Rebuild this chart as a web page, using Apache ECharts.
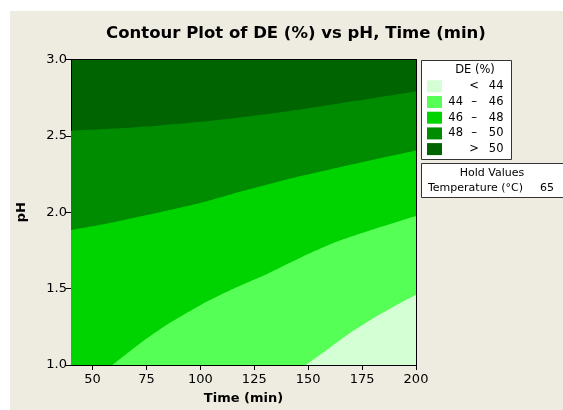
<!DOCTYPE html>
<html>
<head>
<meta charset="utf-8">
<script src="https://cdn.jsdelivr.net/npm/echarts@6/dist/echarts.min.js"></script>
<style>
  html, body { margin: 0; padding: 0; background: #ffffff; }
  #chart { width: 563px; height: 410px; }
</style>
</head>
<body>
<div id="chart"></div>
<script>
// Axis ticks
const timeTicks = [50, 75, 100, 125, 150, 175, 200];
const timeRange = [40, 200];
const phRange = [1.0, 3.0];

// Contour boundaries: pH of each DE level along Time (min)
const de50Time = [40, 60, 80, 100, 120, 140, 160, 180, 200];
const de50PH   = [2.533, 2.548, 2.567, 2.592, 2.624, 2.66, 2.702, 2.746, 2.79];
const de48Time = [40, 60, 80, 100, 120, 140, 160, 180, 200];
const de48PH   = [1.884, 1.935, 1.996, 2.06, 2.14, 2.215, 2.28, 2.344, 2.405];
const de46Time = [59.3, 72.4, 85.5, 101, 116.5, 131.9, 147.3, 162.8, 178.2, 200];
const de46PH   = [1.0, 1.145, 1.273, 1.40, 1.507, 1.603, 1.709, 1.805, 1.879, 1.975];
const de44Time = [148.9, 160, 170, 180, 190, 200];
const de44PH   = [1.0, 1.113, 1.216, 1.305, 1.385, 1.46];

// Legend bands (lowest to highest)
const bandColors = ['#D4FFD4', '#55FF55', '#00D400', '#008C00', '#006400'];
const bandLow    = ['', '44', '46', '48', ''];
const bandSign   = ['<', '–', '–', '–', '>'];
const bandHigh   = ['44', '46', '48', '50', '50'];

const holdName = 'Temperature (°C)';
const holdValue = '65';

const FONT = 'DejaVu Sans';
const zip = (xs, ys) => xs.map((x, i) => [x, ys[i]]);

function band(name, xs, ys, color) {
  return {
    name: name, type: 'line', data: zip(xs, ys),
    symbol: 'none', smooth: 0.2, clip: true,
    lineStyle: { width: 0 },
    areaStyle: { color: color, opacity: 1, origin: 'start' },
    silent: true, z: 2
  };
}

const graphics = [
  { type: 'rect', z: -10, shape: { x: 10, y: 11, width: 553, height: 399 }, style: { fill: '#EEEBE0' } },
  { type: 'rect', z: 10, shape: { x: 421.5, y: 60.5, width: 90, height: 99 }, style: { fill: '#ffffff', stroke: '#333', lineWidth: 1 } },
  { type: 'text', z: 11, x: 475, y: 70, style: { text: 'DE (%)', font: '11.5px "DejaVu Sans"', fill: '#000', align: 'center', verticalAlign: 'middle' } },
  { type: 'rect', z: 10, shape: { x: 421.5, y: 163.5, width: 150, height: 34 }, style: { fill: '#ffffff', stroke: '#333', lineWidth: 1 } },
  { type: 'text', z: 11, x: 492, y: 173, style: { text: 'Hold Values', font: '11px "DejaVu Sans"', fill: '#000', align: 'center', verticalAlign: 'middle' } },
  { type: 'text', z: 11, x: 428, y: 188, style: { text: holdName, font: '11px "DejaVu Sans"', fill: '#000', align: 'left', verticalAlign: 'middle' } },
  { type: 'text', z: 11, x: 554, y: 188, style: { text: holdValue, font: '11px "DejaVu Sans"', fill: '#000', align: 'right', verticalAlign: 'middle' } }
];
bandColors.forEach((c, i) => {
  const y = 86.3 + i * 15.7;
  graphics.push({ type: 'rect', z: 11, shape: { x: 427, y: y - 6, width: 15, height: 12 }, style: { fill: c } });
  if (bandLow[i]) graphics.push({ type: 'text', z: 11, x: 463, y: y, style: { text: bandLow[i], font: '11.5px "DejaVu Sans"', fill: '#000', align: 'right', verticalAlign: 'middle' } });
  graphics.push({ type: 'text', z: 11, x: 474, y: y, style: { text: bandSign[i], font: '11.5px "DejaVu Sans"', fill: '#000', align: 'center', verticalAlign: 'middle' } });
  graphics.push({ type: 'text', z: 11, x: 503.5, y: y, style: { text: bandHigh[i], font: '11.5px "DejaVu Sans"', fill: '#000', align: 'right', verticalAlign: 'middle' } });
});

const chart = echarts.init(document.getElementById('chart'), null, { renderer: 'canvas' });
chart.setOption({
  backgroundColor: '#ffffff',
  animation: false,
  textStyle: { fontFamily: FONT },
  title: {
    text: 'Contour Plot of DE (%) vs pH, Time (min)',
    left: 291, top: 20, textAlign: 'center',
    textStyle: { fontFamily: FONT, fontSize: 16.5, fontWeight: 'bold', color: '#000' }
  },
  grid: {
    left: 71, top: 59.5, width: 345, height: 313.5,
    show: true, backgroundColor: bandColors[4], borderWidth: 0
  },
  xAxis: [{
    type: 'value', min: timeRange[0], max: timeRange[1],
    name: 'Time (min)', nameLocation: 'middle', nameGap: 27,
    nameTextStyle: { fontFamily: FONT, fontSize: 13, fontWeight: 'bold', color: '#000' },
    axisLine: { show: true, onZero: false, lineStyle: { color: '#000', width: 1 } },
    axisTick: { show: true, length: 5, customValues: timeTicks, lineStyle: { color: '#000' } },
    axisLabel: { customValues: timeTicks, fontFamily: FONT, fontSize: 13, color: '#000', margin: 8 },
    splitLine: { show: false }
  }, {
    type: 'value', position: 'top', min: timeRange[0], max: timeRange[1],
    axisLine: { show: true, onZero: false, lineStyle: { color: '#000', width: 1 } },
    axisTick: { show: false }, axisLabel: { show: false }, splitLine: { show: false }
  }],
  yAxis: [{
    type: 'value', min: phRange[0], max: phRange[1], interval: 0.5,
    name: 'pH', nameLocation: 'middle', nameGap: 43, nameRotate: 90,
    nameTextStyle: { fontFamily: FONT, fontSize: 13, fontWeight: 'bold', color: '#000' },
    axisLine: { show: true, onZero: false, lineStyle: { color: '#000', width: 1 } },
    axisTick: { show: true, length: 5, lineStyle: { color: '#000' } },
    axisLabel: { fontFamily: FONT, fontSize: 13, color: '#000', margin: 4, formatter: v => v.toFixed(1) },
    splitLine: { show: false }
  }, {
    type: 'value', position: 'right', min: phRange[0], max: phRange[1], interval: 0.5,
    axisLine: { show: true, onZero: false, lineStyle: { color: '#000', width: 1 } },
    axisTick: { show: false }, axisLabel: { show: false }, splitLine: { show: false }
  }],
  series: [
    band('48–50', de50Time, de50PH, bandColors[3]),
    band('46–48', de48Time, de48PH, bandColors[2]),
    band('44–46', de46Time, de46PH, bandColors[1]),
    band('< 44',  de44Time, de44PH, bandColors[0])
  ],
  graphic: graphics
});
</script>
</body>
</html>
